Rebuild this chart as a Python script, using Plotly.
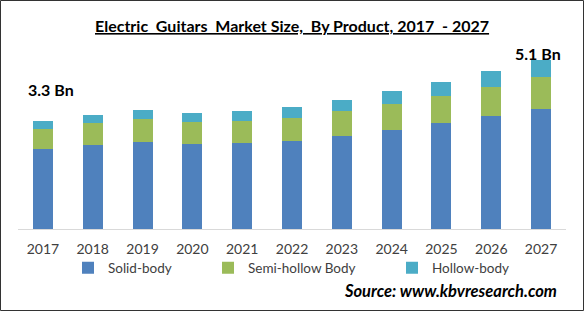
import plotly.graph_objects as go

years = ["2017", "2018", "2019", "2020", "2021", "2022", "2023", "2024", "2025", "2026", "2027"]
solid_body = [2.44, 2.57, 2.66, 2.61, 2.64, 2.69, 2.84, 3.03, 3.24, 3.45, 3.67]
semi_hollow = [0.61, 0.67, 0.70, 0.66, 0.65, 0.70, 0.76, 0.79, 0.83, 0.89, 0.98]
hollow_body = [0.24, 0.25, 0.28, 0.28, 0.31, 0.34, 0.34, 0.40, 0.43, 0.49, 0.52]

series = [
    ("Solid-body", solid_body, "#4F81BD", "legend", 108),
    ("Semi-hollow Body", semi_hollow, "#9BBB59", "legend2", 248),
    ("Hollow-body", hollow_body, "#4BACC6", "legend3", 432),
]

W, H = 584, 311
ml, mr, mt, mb = 18, 18, 50, 82
pw, ph = W - ml - mr, H - mt - mb


def px_x(x):
    return (x - ml) / pw


def px_y(y):
    return (H - mb - y) / ph


fig = go.Figure()
legends = {}
for name, vals, color, lg, text_x in series:
    fig.add_trace(go.Bar(x=years, y=vals, name=name, legend=lg,
                         marker=dict(color=color, line=dict(width=0))))
    legends[lg] = dict(
        orientation="h", x=px_x(text_x - 40), xanchor="left",
        y=px_y(268), yanchor="middle",
        font=dict(size=13.5, color="#404040"),
        bgcolor="rgba(0,0,0,0)",
    )

fig.update_layout(
    width=W, height=H,
    margin=dict(l=ml, r=mr, t=mt, b=mb),
    barmode="stack",
    bargap=0.6,
    paper_bgcolor="white",
    plot_bgcolor="white",
    font=dict(family="Lato, Open Sans, sans-serif", color="#404040"),
    xaxis=dict(
        type="category",
        showline=True, linecolor="#D9D9D9", linewidth=1,
        ticks="", tickfont=dict(size=14, color="#404040"),
        ticklabelstandoff=7,
        showgrid=False, range=[-0.5, 10.5],
    ),
    yaxis=dict(visible=False, range=[0, 5.47], showgrid=False),
    showlegend=True,
    **legends,
)

fig.add_annotation(
    text="<b><u>Electric  Guitars  Market Size,  By Product, 2017  - 2027</u></b>",
    xref="paper", yref="paper", x=0.5, y=px_y(25), yanchor="middle",
    showarrow=False, font=dict(size=16, color="#000000"),
)
fig.add_annotation(
    text="<b>3.3 Bn</b>", xref="paper", yref="paper",
    x=px_x(26), xanchor="left", y=px_y(89), yanchor="middle",
    showarrow=False, font=dict(size=16, color="#000000"),
)
fig.add_annotation(
    text="<b>5.1 Bn</b>", xref="paper", yref="paper",
    x=px_x(563), xanchor="right", y=px_y(53), yanchor="middle",
    showarrow=False, font=dict(size=16, color="#000000"),
)
fig.add_annotation(
    text="<b><i>Source: www.kbvresearch.com</i></b>", xref="paper", yref="paper",
    x=px_x(559), xanchor="right", y=px_y(291), yanchor="middle",
    showarrow=False, font=dict(size=16.5, color="#000000"),
)
# outer frame
fig.add_shape(
    type="rect", xref="paper", yref="paper",
    x0=px_x(0.5), x1=px_x(W - 0.5), y0=px_y(H - 0.5), y1=px_y(0.5),
    line=dict(color="#333333", width=1), fillcolor="rgba(0,0,0,0)",
)

fig.write_html("out.html")
